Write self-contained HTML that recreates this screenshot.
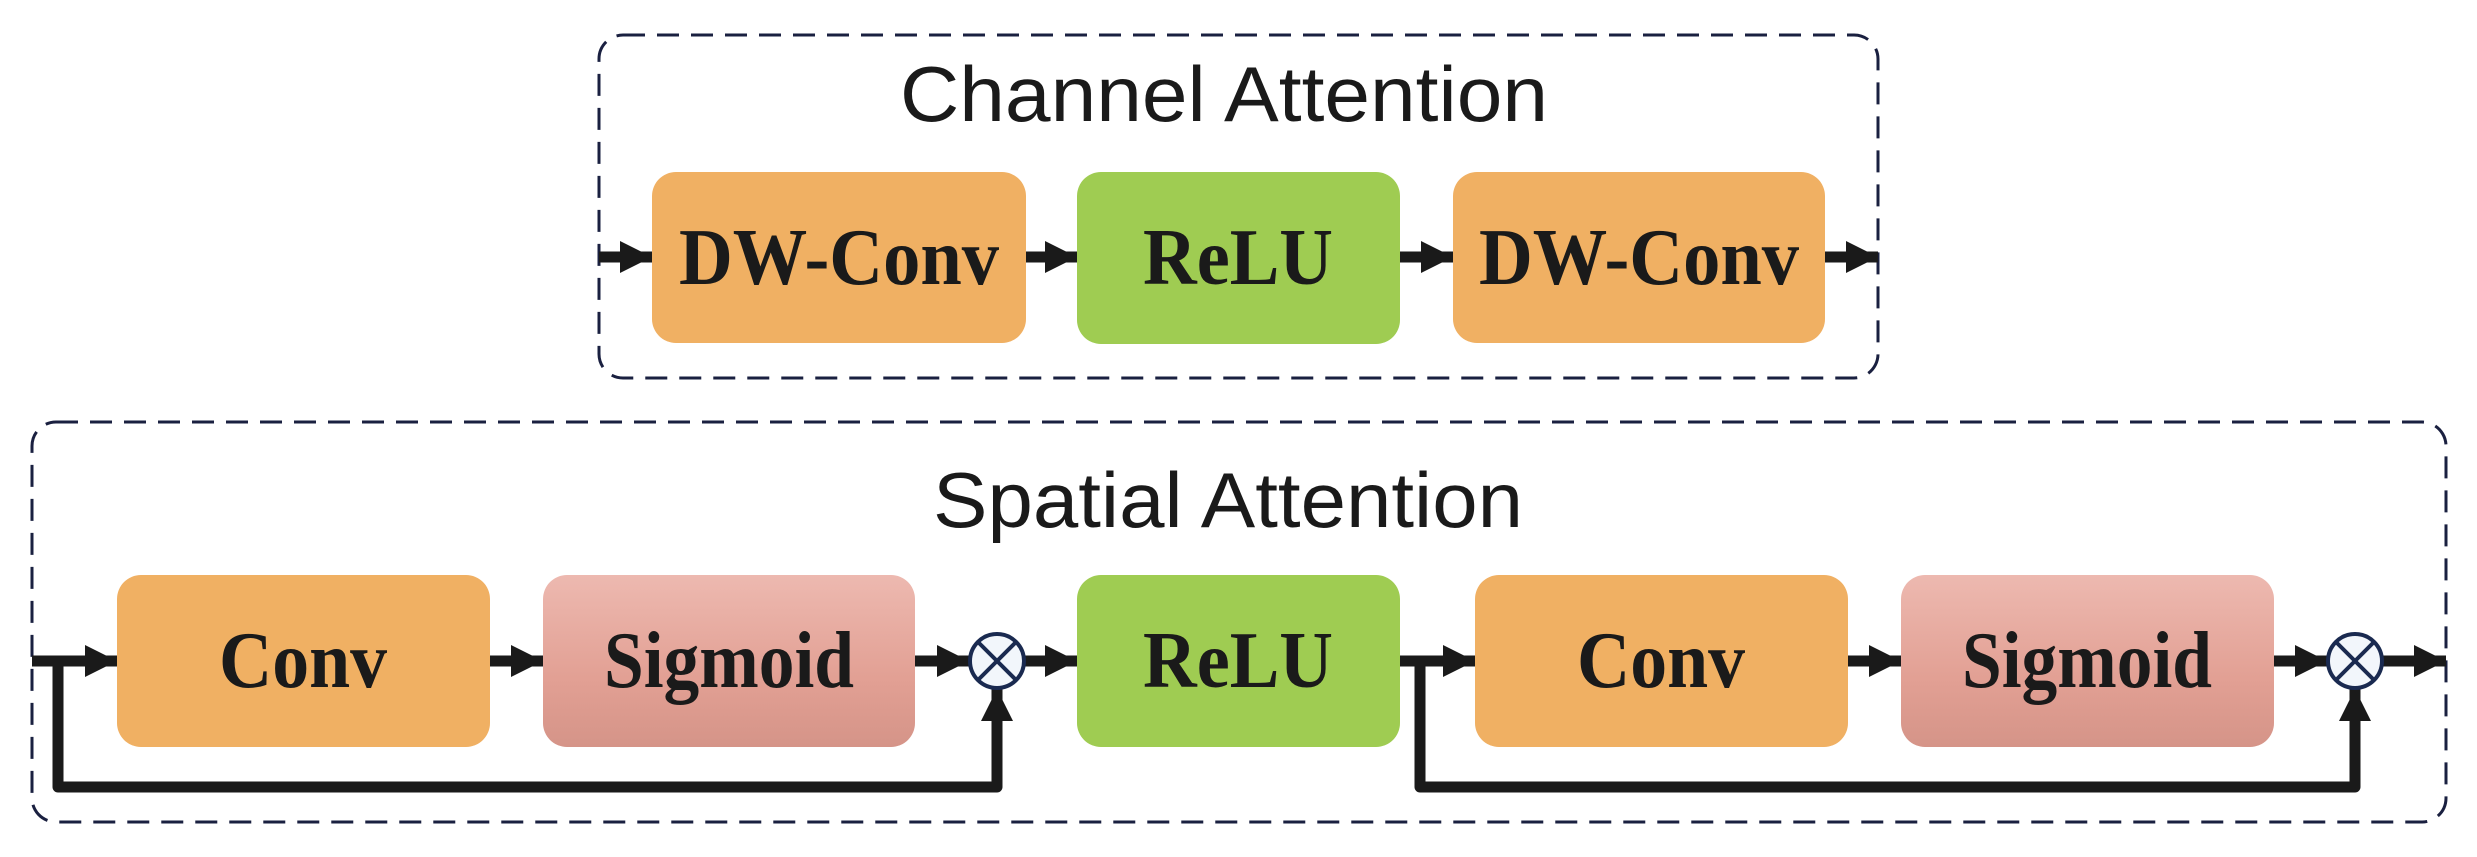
<!DOCTYPE html>
<html><head><meta charset="utf-8"><style>html,body{margin:0;padding:0;background:#fff}svg{display:block}</style></head><body>
<svg width="2477" height="857" viewBox="0 0 2477 857" xmlns="http://www.w3.org/2000/svg">
<defs>
<linearGradient id="sg" x1="0" y1="0" x2="0" y2="1">
<stop offset="0" stop-color="#edb9b0"/><stop offset="0.6" stop-color="#e2a094"/><stop offset="1" stop-color="#d59488"/>
</linearGradient>
<marker id="ah" viewBox="0 0 32 32" refX="32" refY="16" markerWidth="32" markerHeight="32" markerUnits="userSpaceOnUse" orient="auto">
<path d="M0,0 L32,16 L0,32 Z" fill="#1a1a1a"/></marker>
</defs>
<g fill="none" stroke="#1a2040" stroke-width="3" stroke-dasharray="22 12">
<rect x="599" y="35" width="1279" height="343" rx="24"/>
<rect x="32" y="422" width="2414" height="400" rx="24"/>
</g>
<g font-family="Liberation Sans, sans-serif" font-size="78" fill="#1a1a1a">
<text x="900" y="121" textLength="648" lengthAdjust="spacingAndGlyphs">Channel Attention</text>
<text x="933" y="527" textLength="590" lengthAdjust="spacingAndGlyphs">Spatial Attention</text>
</g>
<g>
<rect x="652" y="172" width="374" height="171" rx="24" fill="#f0b063"/>
<rect x="1077" y="172" width="323" height="172" rx="24" fill="#9fcc52"/>
<rect x="1453" y="172" width="372" height="171" rx="24" fill="#f0b063"/>
<rect x="117" y="575" width="373" height="172" rx="24" fill="#f0b063"/>
<rect x="543" y="575" width="372" height="172" rx="24" fill="url(#sg)"/>
<rect x="1077" y="575" width="323" height="172" rx="24" fill="#9fcc52"/>
<rect x="1475" y="575" width="373" height="172" rx="24" fill="#f0b063"/>
<rect x="1901" y="575" width="373" height="172" rx="24" fill="url(#sg)"/>
</g>
<g font-family="Liberation Serif, serif" font-weight="bold" font-size="80" fill="#1a1a1a" text-anchor="middle">
<text x="839" y="284" textLength="320" lengthAdjust="spacingAndGlyphs">DW-Conv</text>
<text x="1238" y="284" textLength="190" lengthAdjust="spacingAndGlyphs">ReLU</text>
<text x="1639" y="284" textLength="320" lengthAdjust="spacingAndGlyphs">DW-Conv</text>
<text x="303" y="687" textLength="168" lengthAdjust="spacingAndGlyphs">Conv</text>
<text x="729" y="687" textLength="250" lengthAdjust="spacingAndGlyphs">Sigmoid</text>
<text x="1238" y="687" textLength="190" lengthAdjust="spacingAndGlyphs">ReLU</text>
<text x="1661" y="687" textLength="168" lengthAdjust="spacingAndGlyphs">Conv</text>
<text x="2087" y="687" textLength="250" lengthAdjust="spacingAndGlyphs">Sigmoid</text>
</g>
<g stroke="#1a1a1a" stroke-width="11" fill="none" marker-end="url(#ah)">
<line x1="599" y1="257" x2="652" y2="257"/>
<line x1="1026" y1="257" x2="1077" y2="257"/>
<line x1="1400" y1="257" x2="1453" y2="257"/>
<line x1="1825" y1="257" x2="1878" y2="257"/>
<line x1="32" y1="661" x2="117" y2="661"/>
<line x1="490" y1="661" x2="543" y2="661"/>
<line x1="915" y1="661" x2="969" y2="661"/>
<line x1="1025" y1="661" x2="1077" y2="661"/>
<line x1="1400" y1="661" x2="1475" y2="661"/>
<line x1="1848" y1="661" x2="1901" y2="661"/>
<line x1="2274" y1="661" x2="2327" y2="661"/>
<line x1="2383" y1="661" x2="2446" y2="661"/>
<polyline points="58,661 58,787 997,787 997,689" stroke-linejoin="round"/>
<polyline points="1420,661 1420,787 2355,787 2355,689" stroke-linejoin="round"/>
</g>
<g stroke="#1a2a50" stroke-width="4" fill="#f2f6fb">
<circle cx="997" cy="661" r="27"/>
<circle cx="2355" cy="661" r="27"/>
</g>
<g stroke="#1a2a50" stroke-width="4">
<line x1="978" y1="642" x2="1016" y2="680"/><line x1="1016" y1="642" x2="978" y2="680"/>
<line x1="2336" y1="642" x2="2374" y2="680"/><line x1="2374" y1="642" x2="2336" y2="680"/>
</g>
</svg>
</body></html>
